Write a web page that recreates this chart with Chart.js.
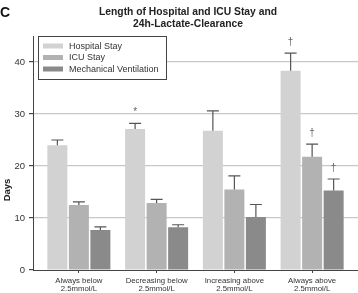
<!DOCTYPE html>
<html><head><meta charset="utf-8">
<script src="https://cdn.jsdelivr.net/npm/chart.js@4/dist/chart.umd.min.js"></script>
<style>html,body{margin:0;padding:0;background:#fff}#wrap{width:358px;height:293px}</style>
</head><body><div id="wrap"><canvas id="c"></canvas></div>
<script>
const categories = [["Always below","2.5mmol/L"],["Decreasing below","2.5mmol/L"],["Increasing above","2.5mmol/L"],["Always above","2.5mmol/L"]];
const seriesNames = ["Hospital Stay","ICU Stay","Mechanical Ventilation"];
const hospital = [24.0, 27.1, 26.8, 38.3];
const hospitalErr = [25.0, 28.2, 30.6, 41.7];
const icu = [12.5, 12.9, 15.5, 21.8];
const icuErr = [13.1, 13.6, 18.1, 24.2];
const mv = [7.7, 8.2, 10.2, 15.3];
const mvErr = [8.3, 8.7, 12.6, 17.5];
const hospitalMark = ["", "*", "", "†"];
const icuMark = ["", "", "", "†"];
const mvMark = ["", "", "", "†"];
const yTicks = [0, 10, 20, 30, 40];
const colors = ["#d2d2d2", "#b2b2b2", "#8a8a8a"];

const FONT = "'Liberation Sans', Arial, Helvetica, sans-serif";
const toXY = arr => arr.map((v, i) => ({x: i, y: v}));

const extras = {
  id: 'extras',
  afterDatasetsDraw(chart) {
    const ctx = chart.ctx;
    const ys = chart.scales.y;
    const errs = [hospitalErr, icuErr, mvErr];
    const marks = [hospitalMark, icuMark, mvMark];
    ctx.save();
    chart.data.datasets.forEach((ds, di) => {
      const meta = chart.getDatasetMeta(di);
      meta.data.forEach((bar, i) => {
        const x = bar.x;
        const yTop = ys.getPixelForValue(errs[di][i]);
        ctx.strokeStyle = '#555';
        ctx.lineWidth = 1.2;
        ctx.beginPath();
        ctx.moveTo(x, bar.y);
        ctx.lineTo(x, yTop);
        ctx.moveTo(x - 6, yTop);
        ctx.lineTo(x + 6, yTop);
        ctx.stroke();
        const m = marks[di][i];
        if (m) {
          ctx.fillStyle = '#666';
          ctx.font = '10px ' + FONT;
          ctx.textAlign = 'center';
          ctx.textBaseline = 'middle';
          ctx.fillText(m, x, yTop - 11);
        }
      });
    });
    ctx.restore();
  },
  afterDraw(chart) {
    const ctx = chart.ctx;
    ctx.save();
    ctx.fillStyle = '#111';
    ctx.font = 'bold 14px ' + FONT;
    ctx.textAlign = 'left';
    ctx.textBaseline = 'middle';
    ctx.fillText('C', 0, 13);
    ctx.font = 'bold 10.3px ' + FONT;
    ctx.fillStyle = '#222';
    ctx.textAlign = 'center';
    ctx.fillText('Length of Hospital and ICU Stay and', 188, 12);
    ctx.fillText('24h-Lactate-Clearance', 188, 24);
    ctx.save();
    ctx.translate(7, 190);
    ctx.rotate(-Math.PI / 2);
    ctx.font = 'bold 9.5px ' + FONT;
    ctx.fillText('Days', 0, 0);
    ctx.restore();
    ctx.fillStyle = '#fff';
    ctx.fillRect(38, 36, 129, 44);
    ctx.strokeStyle = '#444';
    ctx.lineWidth = 1;
    ctx.strokeRect(38.5, 36.5, 128, 43);
    chart.data.datasets.forEach((ds, i) => {
      const y = 46 + i * 11.5;
      ctx.fillStyle = ds.backgroundColor;
      ctx.fillRect(43, y - 2.5, 20, 5);
      ctx.fillStyle = '#333';
      ctx.font = '9px ' + FONT;
      ctx.textAlign = 'left';
      ctx.textBaseline = 'middle';
      ctx.fillText(ds.label, 69, y + 0.5);
    });
    ctx.restore();
  }
};

new Chart(document.getElementById('c'), {
  type: 'bar',
  data: {
    datasets: [
      {label: seriesNames[0], data: toXY(hospital), backgroundColor: colors[0]},
      {label: seriesNames[1], data: toXY(icu), backgroundColor: colors[1]},
      {label: seriesNames[2], data: toXY(mv), backgroundColor: colors[2]}
    ]
  },
  options: {
    responsive: true,
    maintainAspectRatio: false,
    animation: false,
    layout: {padding: {top: 36, right: 0, left: 0, bottom: 0}},
    categoryPercentage: 0.83,
    barPercentage: 0.93,
    plugins: {legend: {display: false}, tooltip: {enabled: false}, title: {display: false}},
    scales: {
      x: {
        type: 'linear',
        min: -0.59,
        max: 3.59,
        offset: false,
        afterBuildTicks(s) { s.ticks = categories.map((c, i) => ({value: i})); },
        afterFit(s) { s.height = 23; },
        ticks: {
          autoSkip: false,
          maxRotation: 0,
          padding: 3,
          color: '#333',
          font: {family: FONT, size: 7.8, lineHeight: 1.12},
          callback: (v) => categories[v] || ''
        },
        grid: {display: true, offset: false, drawOnChartArea: false, drawTicks: true, tickLength: 3, color: '#444'},
        border: {display: true, color: '#444', width: 1}
      },
      y: {
        min: 0,
        max: 45,
        afterBuildTicks(s) { s.ticks = yTicks.map(v => ({value: v})); },
        afterFit(s) { s.width = 33; },
        ticks: {color: '#333', padding: 4, font: {family: FONT, size: 9.5}},
        grid: {color: (c) => c.tick && c.tick.value === 0 ? 'rgba(0,0,0,0)' : '#c8c8c8', lineWidth: 1.2, drawTicks: true, tickLength: 4, tickColor: '#444'},
        border: {display: true, color: '#444', width: 1}
      }
    }
  },
  plugins: [extras]
});
</script></body></html>
